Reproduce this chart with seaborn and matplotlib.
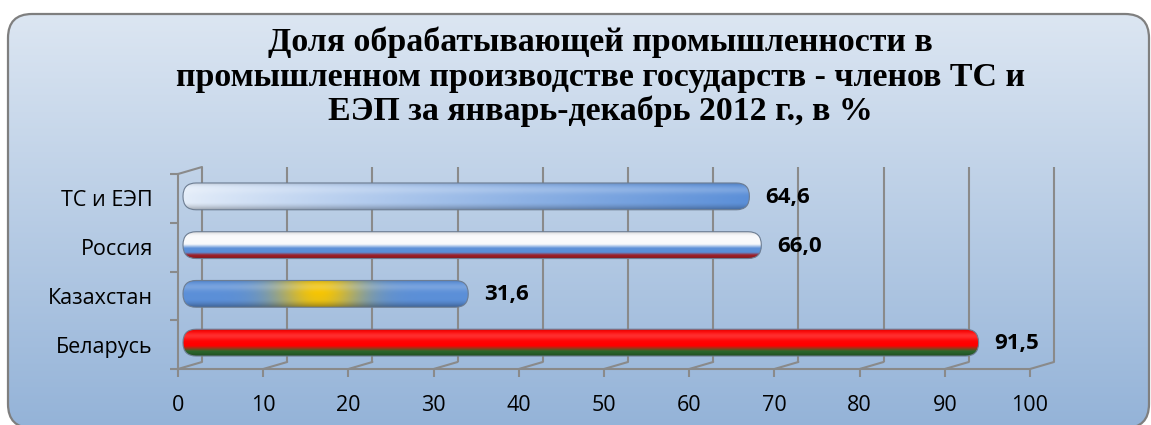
import numpy as np
import matplotlib
matplotlib.use("Agg")
import matplotlib.pyplot as plt
import seaborn as sns
import pandas as pd
from matplotlib.patches import FancyBboxPatch
from matplotlib.colors import to_rgb
from matplotlib.transforms import IdentityTransform

# data
categories = ["ТС и ЕЭП", "Россия", "Казахстан", "Беларусь"]
shares = [64.6, 66.0, 31.6, 91.5]
bar_kinds = ["union", "russia", "kazakhstan", "belarus"]
x_ticks = [0, 10, 20, 30, 40, 50, 60, 70, 80, 90, 100]
title_lines = ["Доля обрабатывающей промышленности в",
               "промышленном производстве государств - членов ТС и",
               "ЕЭП за январь-декабрь 2012 г., в %"]

W, H, DPI = 1151, 425, 100
GRAY = "#8a8a8a"

sns.set_theme(style="white")
plt.rcParams["font.family"] = ["Open Sans", "DejaVu Sans"]
plt.rcParams["text.color"] = "black"

fig = plt.figure(figsize=(W / DPI, H / DPI), dpi=DPI)
fig.patch.set_facecolor("white")

# background panel (pixel coords): rounded frame + vertical gradient
fx, fw, fh = 8, 1141, 414
fy = H - 14 - fh
frame = FancyBboxPatch((fx, fy), fw, fh,
                       boxstyle="round,pad=0,rounding_size=24",
                       transform=IdentityTransform(),
                       fc="none", ec="#7f7f7f", lw=1.6, zorder=-1)
fig.add_artist(frame)
g = np.linspace(0, 1, fh)[:, None, None]
c_top = np.array(to_rgb("#dce6f2"))
c_bot = np.array(to_rgb("#94b3d8"))
bg_img = np.broadcast_to(c_top + (c_bot - c_top) * g, (fh, fw, 3)).copy()
im = fig.figimage(bg_img, xo=fx, yo=fy, origin="upper", zorder=-2)
im.set_clip_path(frame)

# plot area
ax = fig.add_axes([178 / W, 1 - 369 / H, 852 / W, 195 / H])
ax.patch.set_alpha(0)
df = pd.DataFrame({"cat": categories, "val": shares})
sns.barplot(data=df, x="val", y="cat", orient="h", width=0.55, ax=ax)
ax.set_xlim(0, 100)
ax.set_ylim(3.5, -0.5)
ax.set_xlabel("")
ax.set_ylabel("")

pxx = ax.bbox.width / 100.0
pxy = ax.bbox.height / 4.0

# 3d-ish walls: back gridlines shifted right/up
dxb, dyb = 24 / pxx, 7 / pxy
for v in x_ticks:
    ax.plot([v + dxb, v + dxb], [3.5 - dyb, -0.5 - dyb], color=GRAY, lw=1.5,
            zorder=0.5, clip_on=False, solid_capstyle="butt")
    ax.plot([v, v + dxb], [3.5, 3.5 - dyb], color=GRAY, lw=1.5,
            zorder=0.5, clip_on=False)
ax.plot([0, dxb], [-0.5, -0.5 - dyb], color=GRAY, lw=1.5, zorder=0.5, clip_on=False)

for side in ["top", "right"]:
    ax.spines[side].set_visible(False)
for side in ["left", "bottom"]:
    ax.spines[side].set_color(GRAY)
    ax.spines[side].set_linewidth(1.5)

ax.set_xticks(x_ticks)
ax.tick_params(axis="x", direction="out", length=6, width=1.5, color=GRAY,
               labelsize=15.5, pad=13, labelcolor="black", bottom=True)
ax.set_yticks(np.arange(-0.5, 4, 1), minor=True)
ax.tick_params(axis="y", which="minor", direction="out", length=6, width=1.5,
               color=GRAY, left=True)
ax.tick_params(axis="y", which="major", length=0, pad=18, labelsize=15.5,
               labelcolor="black")


def smooth_step(t, a, b):
    return np.clip((t - a) / (b - a), 0, 1)


def bar_colors(kind, x_start, width, n=80, m=400):
    t = np.linspace(0, 1, n)[:, None]
    s = np.linspace(x_start, x_start + width, m)[None, :]
    blue = np.array(to_rgb("#5b8fd8"))
    if kind == "union":
        light = np.array(to_rgb("#e4edf9"))
        k = np.clip((s - x_start) / width, 0, 1) ** 0.9
        rgb = light + (blue - light) * k[..., None]
        rgb = np.broadcast_to(rgb, (n, m, 3)).copy()
    elif kind == "russia":
        white = np.array(to_rgb("#f8f9fb"))
        red = np.array(to_rgb("#b3232b"))
        k1 = smooth_step(t, 0.45, 0.6)[..., None]
        k2 = smooth_step(t, 0.76, 0.86)[..., None]
        rgb = white * (1 - k1) + blue * k1
        rgb = rgb * (1 - k2) + red * k2
        rgb = np.broadcast_to(rgb, (n, m, 3)).copy()
    elif kind == "kazakhstan":
        yellow = np.array(to_rgb("#f7c500"))
        wgt = np.exp(-((s - 16.5) / 5.0) ** 2) * (1 - 0.25 * np.abs(t - 0.45))
        rgb = blue * (1 - wgt[..., None]) + yellow * wgt[..., None]
    else:
        red = np.array(to_rgb("#ff0000"))
        green = np.array(to_rgb("#2f6e30"))
        k = smooth_step(t, 0.62, 0.82)[..., None]
        rgb = red * (1 - k) + green * k
        rgb = np.broadcast_to(rgb, (n, m, 3)).copy()
    # soft cylinder shading
    dark = 1 - 0.3 * smooth_step(t, 0.72, 1.0) ** 1.5 - 0.1 * np.exp(-(t / 0.08) ** 2)
    rgb = rgb * dark[..., None]
    hi = 0.18 * np.exp(-((t - 0.25) / 0.14) ** 2)
    rgb = rgb + (1 - rgb) * hi[..., None]
    return np.clip(rgb, 0, 1)


# bars sit half-way into the 3d depth, with round end caps
shift_x, shift_y, cap = 13 / pxx, 2 / pxy, 8 / pxx
aspect = pxx / pxy
for patch, kind, val in zip(ax.patches, bar_kinds, shares):
    x0 = patch.get_x() + shift_x - cap
    y0 = patch.get_y() - shift_y
    w, h = patch.get_width() + 2 * cap, patch.get_height()
    patch.set_visible(False)
    r = 0.49 * h / aspect
    shape = FancyBboxPatch((x0, y0), w, h,
                           boxstyle=f"round,pad=0,rounding_size={r}",
                           mutation_aspect=aspect, fc="none",
                           ec="#6d7d92", lw=0.8, zorder=3)
    ax.add_patch(shape)
    bimg = ax.imshow(bar_colors(kind, x0, w), extent=(x0, x0 + w, y0 + h, y0),
                     aspect="auto", zorder=2.5, interpolation="bilinear")
    bimg.set_clip_path(shape)
    label = f"{val:.1f}".replace(".", ",")
    ax.annotate(label, xy=(val, y0 + h / 2), xytext=(37, -1),
                textcoords="offset pixels", ha="left", va="center",
                fontsize=16, fontweight="bold", color="black")

ax.set_xlim(0, 100)
ax.set_ylim(3.5, -0.5)

for line, base_y in zip(title_lines, [51, 86, 120]):
    fig.text(600 / W, 1 - base_y / H, line, ha="center", va="baseline",
             fontsize=24.4, fontweight="bold", color="black",
             family=["Liberation Serif", "DejaVu Serif"])

fig.savefig("out.png", dpi=DPI)
